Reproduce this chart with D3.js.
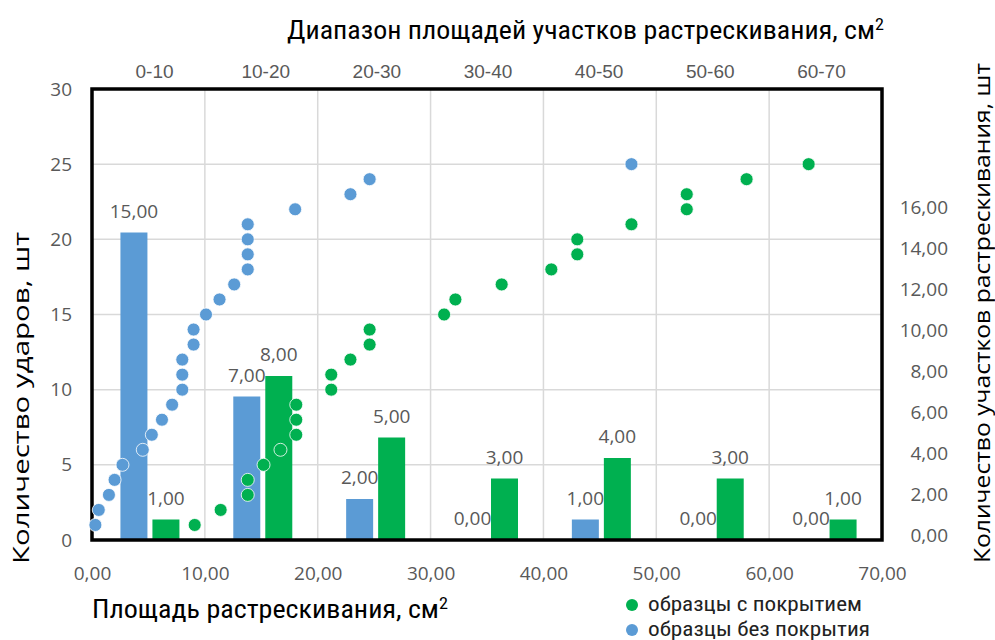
<!DOCTYPE html>
<html>
<head>
<meta charset="utf-8">
<script src="https://cdn.jsdelivr.net/npm/d3@7"></script>
<style>
  body { margin: 0; background: #fff; }
  svg { display: block; }
  .tick text { font-family: "Open Sans", sans-serif; font-size: 19px; fill: #595959; }
  .narrow { font-family: "Liberation Sans Narrow", "Arial Narrow", "Roboto Condensed", sans-serif; }
</style>
</head>
<body>
<svg id="chart" width="995" height="640"></svg>
<script>
// bins (top category axis)
const bins = ["0-10", "10-20", "20-30", "30-40", "40-50", "50-60", "60-70"]
// number of crack areas per bin
const barsUncoated = [15, 7, 2, 0, 1, 0, 0]
const barsCoated = [1, 8, 5, 3, 4, 3, 1]

// scatter: crack area (x) vs number of impacts (y)
const impacts = d3.range(1, 26)
const areaUncoated = [0.3, 0.6, 1.5, 2.0, 2.7, 4.5, 5.3, 6.2, 7.1, 8.0, 8.0, 8.0, 9.0, 9.0, 10.1,
    11.3, 12.6, 13.8, 13.8, 13.8, 13.8, 18.0, 22.9, 24.6, 47.8]
const areaCoated = [9.1, 11.4, 13.8, 13.8, 15.2, 16.7, 18.1, 18.1, 18.1, 21.2, 21.2, 22.9, 24.6, 24.6,
    31.2, 32.2, 36.3, 40.7, 43.0, 43.0, 47.8, 52.7, 52.7, 58.0, 63.5]

const xTicks = [0, 10, 20, 30, 40, 50, 60, 70]
const yTicks = [0, 5, 10, 15, 20, 25, 30]
const y2Ticks = [0, 2, 4, 6, 8, 10, 12, 14, 16]

const blue = "#5B9BD5"
const green = "#00B050"

var svg = d3.select("#chart")
var plot = { left: 92, right: 882, top: 89, bottom: 540 }

var x = d3.scaleLinear().domain([0, 70]).range([plot.left, plot.right])
var y = d3.scaleLinear().domain([0, 30]).range([plot.bottom, plot.top])
var y2 = d3.scaleLinear().domain([0, 22]).range([plot.bottom, plot.top])
var band = d3.scaleBand().domain(bins).range([plot.left, plot.right])
var bandLabels = d3.scaleBand().domain(bins).range([99, 877])

var fmt = d => d3.format(".2f")(d).replace(".", ",")

// grid
svg.append("g").selectAll("line")
    .data(xTicks.slice(1, -1))
    .enter().append("line")
    .attr("x1", d => x(d)).attr("x2", d => x(d))
    .attr("y1", plot.top).attr("y2", plot.bottom)
    .attr("stroke", "#d9d9d9").attr("stroke-width", 1.5)
svg.append("g").selectAll("line")
    .data(yTicks.slice(1, -1))
    .enter().append("line")
    .attr("x1", plot.left).attr("x2", plot.right)
    .attr("y1", d => y(d)).attr("y2", d => y(d))
    .attr("stroke", "#d9d9d9").attr("stroke-width", 1.5)

// bars
var barW = 27, gap = 5
var barX = (c, i) => band(c) + band.bandwidth() / 2 + 1.5 - (2 * barW + gap) / 2 + i * (barW + gap)
var barSeries = [
    { vals: barsUncoated, color: blue },
    { vals: barsCoated, color: green }
]
barSeries.forEach((s, i) => {
    var g = svg.append("g")
    g.selectAll("rect")
        .data(s.vals)
        .enter().append("rect")
        .attr("x", (d, idx) => barX(bins[idx], i))
        .attr("width", barW)
        .attr("y", d => y2(d))
        .attr("height", d => plot.bottom - y2(d))
        .attr("fill", s.color)
})

// border
svg.append("rect")
    .attr("x", plot.left).attr("y", plot.top)
    .attr("width", plot.right - plot.left).attr("height", plot.bottom - plot.top)
    .attr("fill", "none").attr("stroke", "#000").attr("stroke-width", 3.5)

// scatter
function dots(xs, color) {
    svg.append("g").selectAll("circle")
        .data(xs)
        .enter().append("circle")
        .attr("cx", d => x(d))
        .attr("cy", (d, idx) => y(impacts[idx]))
        .attr("r", 6.5)
        .attr("fill", color)
        .attr("stroke", "#fff").attr("stroke-width", 0.8)
}
dots(areaUncoated, blue)
dots(areaCoated, green)

// bar labels
barSeries.forEach((s, i) => {
    svg.append("g").selectAll("text")
        .data(s.vals)
        .enter().append("text")
        .attr("x", (d, idx) => barX(bins[idx], i) + barW / 2)
        .attr("y", d => y2(d) - 15)
        .attr("text-anchor", "middle")
        .style("font-family", "'Open Sans', sans-serif")
        .style("font-size", "19px")
        .attr("fill", "#595959")
        .text(d => fmt(d))
})

// axes
var gx = svg.append("g")
    .attr("transform", "translate(0," + plot.bottom + ")")
    .call(d3.axisBottom(x).tickValues(xTicks).tickFormat(fmt).tickSize(0).tickPadding(27))
gx.select(".domain").remove()

var gy = svg.append("g")
    .attr("transform", "translate(" + plot.left + ",0)")
    .call(d3.axisLeft(y).tickValues(yTicks).tickFormat(d3.format("d")).tickSize(0).tickPadding(20))
gy.select(".domain").remove()

var gy2 = svg.append("g")
    .attr("transform", "translate(" + plot.right + ",0)")
    .call(d3.axisRight(y2).tickValues(y2Ticks).tickFormat(fmt).tickSize(0))
gy2.select(".domain").remove()
gy2.selectAll(".tick text").attr("text-anchor", "end").attr("x", 66)
    .attr("transform", "translate(0,-5)")

var gt = svg.append("g")
    .attr("transform", "translate(0," + plot.top + ")")
    .call(d3.axisTop(bandLabels).tickSize(0).tickPadding(11))
gt.select(".domain").remove()
gt.selectAll(".tick text").attr("class", "narrow").style("font-size", "19px")
    .style("font-family", "'Liberation Sans Narrow', 'Arial Narrow', sans-serif")

// titles
function titleSup(tx, ty, main, len, size) {
    var t = svg.append("text")
        .attr("class", "narrow")
        .attr("x", tx).attr("y", ty)
        .style("font-size", size + "px")
        .attr("fill", "#000")
        .attr("textLength", len).attr("lengthAdjust", "spacingAndGlyphs")
    t.append("tspan").text(main)
    t.append("tspan").attr("dy", -9).style("font-size", (size * 0.65) + "px").text("2")
    return t
}
titleSup(287, 39, "Диапазон площадей участков растрескивания, см", 597, 25)
titleSup(92, 618, "Площадь растрескивания, см", 356, 25)

svg.append("text")
    .attr("transform", "translate(29,398) rotate(-90)")
    .attr("text-anchor", "middle")
    .style("font-family", "'Open Sans', sans-serif")
    .style("font-size", "22px")
    .attr("textLength", 332).attr("lengthAdjust", "spacingAndGlyphs")
    .text("Количество ударов, шт")

svg.append("text")
    .attr("transform", "translate(990,313) rotate(-90)")
    .attr("text-anchor", "middle")
    .style("font-family", "'Open Sans', sans-serif")
    .style("font-size", "22px")
    .attr("textLength", 500).attr("lengthAdjust", "spacingAndGlyphs")
    .text("Количество участков растрескивания, шт")

// legend
var legend = [
    { label: "образцы с покрытием", color: green, len: 214 },
    { label: "образцы без покрытия", color: blue, len: 222 }
]
var lg = svg.append("g").selectAll("g")
    .data(legend)
    .enter().append("g")
    .attr("transform", (d, i) => "translate(632," + (605 + i * 25) + ")")
lg.append("circle").attr("r", 6).attr("fill", d => d.color)
lg.append("text")
    .attr("class", "narrow")
    .attr("x", 16).attr("y", 6)
    .style("font-size", "20px")
    .attr("fill", "#222")
    .attr("textLength", d => d.len).attr("lengthAdjust", "spacingAndGlyphs")
    .text(d => d.label)
</script>
</body>
</html>
